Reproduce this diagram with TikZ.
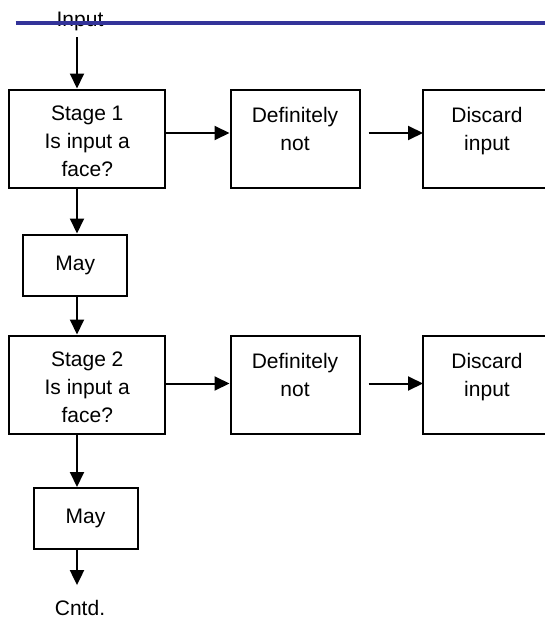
\documentclass[tikz,border=0pt]{standalone}
\usepackage{fontspec}
\setmainfont{Liberation Sans}
\usetikzlibrary{arrows.meta}
\definecolor{lineblue}{RGB}{51,51,153}
\begin{document}
\begin{tikzpicture}[x=1pt,y=-1pt,
  box/.style={draw, line width=2pt, align=center, inner sep=0pt, font=\fontsize{21}{28}\selectfont},
  stagebox/.style={box, minimum width=156pt, minimum height=98pt, text height=76pt, text depth=0pt},
  notbox/.style={box, minimum width=129pt, minimum height=98pt, text depth=19pt},
  maybox/.style={box, minimum width=104pt, minimum height=61pt},
  lbl/.style={inner sep=0pt, font=\fontsize{21}{28}\selectfont},
  arr/.style={line width=2pt, -{Triangle[length=15pt,width=14pt]}},
]
\useasboundingbox (0,0) rectangle (545,621);
\clip (0,0) rectangle (545,621);
\coordinate (ax) at (77,0);

\node[lbl, anchor=base] (inp) at (80,27) {Input};
\draw[line width=4pt, lineblue] (15.5,23.3) -- (550,23.3);

\node[stagebox] (S1) at (87.25,138.5) {Stage 1\\Is input a\\face?};
\node[notbox] (D1) at (295,138.5) {Definitely\\not};
\node[notbox] (X1) at (487,138.5) {Discard\\input};
\node[maybox] (M1) at (75.3,265) {May};
\node[stagebox] (S2) at (87.25,384.5) {Stage 2\\Is input a\\face?};
\node[notbox] (D2) at (295,384.5) {Definitely\\not};
\node[notbox] (X2) at (487,384.5) {Discard\\input};
\node[maybox] (M2) at (85.5,518.5) {May};
\node[lbl] (cntd) at (80,608) {Cntd.};

\draw[arr, shorten <=5.6pt] (inp.south -| ax) -- (S1.north -| ax);
\draw[arr] (S1.south -| ax) -- (M1.north -| ax);
\draw[arr] (M1.south -| ax) -- (S2.north -| ax);
\draw[arr] (S2.south -| ax) -- (M2.north -| ax);
\draw[arr, shorten >=15pt] (M2.south -| ax) -- (cntd.north -| ax);

\draw[arr] ([yshift=5.5pt]S1.east) -- ([yshift=5.5pt]D1.west);
\draw[arr] ([xshift=8pt,yshift=5.5pt]D1.east) -- ([xshift=1.5pt,yshift=5.5pt]X1.west);
\draw[arr] ([yshift=1pt]S2.east) -- ([yshift=1pt]D2.west);
\draw[arr] ([xshift=8pt,yshift=1pt]D2.east) -- ([xshift=1.5pt,yshift=1pt]X2.west);
\end{tikzpicture}
\end{document}
